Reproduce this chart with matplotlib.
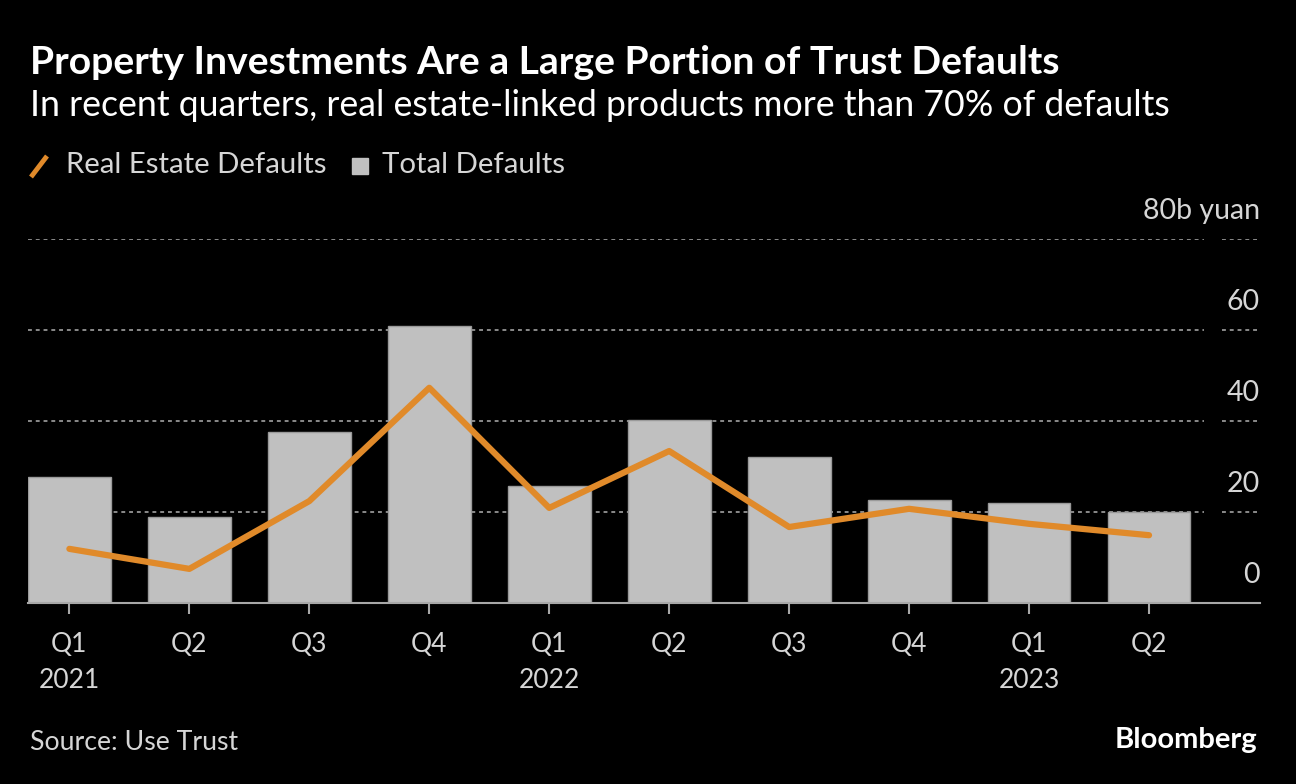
import matplotlib
matplotlib.use("Agg")
import matplotlib.pyplot as plt
from matplotlib.lines import Line2D
from matplotlib.patches import Rectangle

quarters = ["Q1\n2021", "Q2", "Q3", "Q4", "Q1\n2022", "Q2", "Q3", "Q4", "Q1\n2023", "Q2"]
total_defaults = [27.7, 18.9, 37.6, 60.9, 25.7, 40.2, 32.1, 22.6, 22.0, 20.0]
real_estate_defaults = [11.9, 7.5, 22.4, 47.3, 20.9, 33.4, 16.7, 20.7, 17.4, 14.9]
y_ticks = [0, 20, 40, 60, 80]
y_tick_labels = ["0", "20", "40", "60", "80b yuan"]

FONT = "Lato"
BG = "black"
TXT = "#d6d6d6"
BAR = "#c0c0c0"
ORANGE = "#e08a2a"

W, H = 1296, 784
fig = plt.figure(figsize=(W / 100, H / 100), dpi=100, facecolor=BG)
ax = fig.add_axes([28 / W, 1 - 603 / H, (1260 - 28) / W, (603 - 239) / H], facecolor=BG)

x = list(range(len(quarters)))
ax.set_xlim(-0.345, 9.925)
ax.set_ylim(0, 80)

# gridlines (two segments, leaving a gap near labels)
for yv in y_ticks[1:]:
    ax.plot([-0.345, 9.46], [yv, yv], color="#8a8a8a", lw=1.4, ls=(0, (2, 2)), zorder=1)
    ax.plot([9.61, 9.92], [yv, yv], color="#8a8a8a", lw=1.4, ls=(0, (2, 2)), zorder=1)

ax.bar(x, total_defaults, width=0.69, color=BAR, edgecolor="#9a9a9a", linewidth=1.0, zorder=2)
ax.plot(x, real_estate_defaults, color=ORANGE, lw=4.5, solid_capstyle="round",
        solid_joinstyle="round", zorder=3)

for s in ["top", "right", "left"]:
    ax.spines[s].set_visible(False)
ax.spines["bottom"].set_color("#a8a8a8")
ax.spines["bottom"].set_linewidth(1.5)
ax.spines["bottom"].set_zorder(4)

ax.set_yticks([])
ax.set_xticks(x)
ax.set_xticklabels(quarters, fontsize=19, color=TXT, family=FONT, linespacing=1.55)
ax.tick_params(axis="x", length=8, width=1.5, color="#a8a8a8", pad=13)

for yv, lab in zip(y_ticks, y_tick_labels):
    ax.annotate(lab, xy=(1.0, yv), xycoords=("axes fraction", "data"),
                xytext=(0, 20), textcoords="offset points",
                ha="right", va="center", fontsize=20.5, color=TXT, family=FONT)

# titles
fig.text(30 / W, 1 - 63 / H, "Property Investments Are a Large Portion of Trust Defaults",
         fontsize=28.2, fontweight="bold", color="white", family=FONT, va="center", ha="left")
fig.text(30 / W, 1 - 105 / H, "In recent quarters, real estate-linked products more than 70% of defaults",
         fontsize=25.7, color="white", family=FONT, va="center", ha="left")

# legend
fig.add_artist(Line2D([31 / W, 47 / W], [1 - 177 / H, 1 - 156 / H], color=ORANGE, lw=3.5,
                      solid_capstyle="butt", transform=fig.transFigure))
fig.text(66 / W, 1 - 165 / H, "Real Estate Defaults", fontsize=21.2, color=TXT, family=FONT,
         va="center", ha="left")
fig.add_artist(Rectangle((352 / W, 1 - 174 / H), 16 / W, 16 / H, color=BAR,
                         transform=fig.transFigure))
fig.text(382 / W, 1 - 165 / H, "Total Defaults", fontsize=21.2, color=TXT, family=FONT,
         va="center", ha="left")

# footer
fig.text(30 / W, 1 - 742 / H, "Source: Use Trust", fontsize=19.2, color=TXT, family=FONT,
         va="center", ha="left")
fig.text(1257 / W, 1 - 740 / H, "Bloomberg", fontsize=21, fontweight="bold", color="white",
         family=FONT, va="center", ha="right")

fig.savefig("out.png", dpi=100, facecolor=BG)
